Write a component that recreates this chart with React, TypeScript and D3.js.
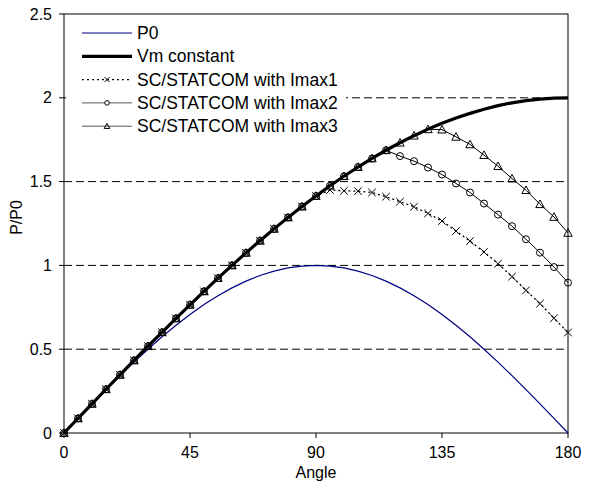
import React from "react";
import * as d3 from "d3";

const ANGLES = [0,5,10,15,20,25,30,35,40,45,50,55,60,65,70,75,80,85,90,95,100,105,110,115,120,125,130,135,140,145,150,155,160,165,170,175,180];
const P0 = [0,0.087,0.174,0.259,0.342,0.423,0.5,0.574,0.643,0.707,0.766,0.819,0.866,0.906,0.94,0.966,0.985,0.996,1,0.996,0.985,0.966,0.94,0.906,0.866,0.819,0.766,0.707,0.643,0.574,0.5,0.423,0.342,0.259,0.174,0.087,0];
const VM = [0,0.087,0.174,0.261,0.347,0.433,0.518,0.601,0.684,0.765,0.845,0.924,1,1.075,1.147,1.218,1.286,1.351,1.414,1.475,1.532,1.587,1.638,1.687,1.732,1.774,1.813,1.848,1.879,1.907,1.932,1.953,1.97,1.983,1.992,1.998,2];
const IMAX1 = [0,0.087,0.174,0.261,0.347,0.433,0.518,0.601,0.684,0.765,0.845,0.924,1,1.075,1.147,1.218,1.286,1.351,1.414,1.45,1.445,1.443,1.435,1.41,1.38,1.35,1.31,1.265,1.205,1.145,1.08,1.01,0.933,0.851,0.772,0.685,0.6];
const IMAX2 = [0,0.087,0.174,0.261,0.347,0.433,0.518,0.601,0.684,0.765,0.845,0.924,1,1.075,1.147,1.218,1.286,1.351,1.414,1.475,1.532,1.587,1.638,1.687,1.652,1.622,1.584,1.542,1.489,1.435,1.369,1.303,1.234,1.156,1.076,0.99,0.897];
const IMAX3 = [0,0.087,0.174,0.261,0.347,0.433,0.518,0.601,0.684,0.765,0.845,0.924,1,1.075,1.147,1.218,1.286,1.351,1.414,1.475,1.532,1.587,1.638,1.687,1.732,1.774,1.812,1.81,1.767,1.722,1.658,1.592,1.518,1.449,1.365,1.289,1.194];
const X_TICKS = [0,45,90,135,180];
const Y_TICKS = [0,0.5,1,1.5,2,2.5];
const GRID_Y = [0.5,1,1.5,2];
const LEGEND = ["P0","Vm constant","SC/STATCOM with Imax1","SC/STATCOM with Imax2","SC/STATCOM with Imax3"];

const W = 595, H = 488;
const L = 64, R = 568, T = 14, B = 433;
const FONT = "'Liberation Sans', Arial, sans-serif";

function xMark(cx: number, cy: number, s: number, key: string) {
  return <path key={key} d={`M${cx-s},${cy-s}L${cx+s},${cy+s}M${cx-s},${cy+s}L${cx+s},${cy-s}`} stroke="#000" strokeWidth={1} fill="none" />;
}
function tri(cx: number, cy: number, s: number, key: string) {
  return <path key={key} d={`M${cx},${cy-s}L${cx+s},${cy+s*0.8}L${cx-s},${cy+s*0.8}Z`} stroke="#000" strokeWidth={1} fill="none" />;
}

export default function App() {
  const x = d3.scaleLinear().domain([0, 180]).range([L, R]);
  const y = d3.scaleLinear().domain([0, 2.5]).range([B, T]);
  const line = (vals: number[]) => d3.line<number>().x((_, i) => x(ANGLES[i])).y(v => y(v))(vals) || "";

  const legY = (i: number) => 33 + i * 23.3;
  const lx0 = 82, lx1 = 132, tx = 137;

  return (
    <svg width={W} height={H} style={{ position: "absolute", left: 0, top: 0, background: "#fff" }} fontFamily={FONT}>
      <rect x={0} y={0} width={W} height={H} fill="#fff" />
      {GRID_Y.map(g => (
        <line key={g} x1={L} x2={R} y1={y(g)} y2={y(g)} stroke="#000" strokeWidth={1} strokeDasharray="8,4" />
      ))}
      <rect x={L} y={T} width={R - L} height={B - T} fill="none" stroke="#000" strokeWidth={1} />
      <rect x={L + 2} y={T + 2} width={280} height={124} fill="#fff" />
      {Y_TICKS.map(t => (
        <g key={t}>
          <line x1={L - 5} x2={L} y1={y(t)} y2={y(t)} stroke="#000" />
          <text x={L - 12} y={y(t)} dy="0.35em" textAnchor="end" fontSize={16}>{t}</text>
        </g>
      ))}
      {X_TICKS.map(t => (
        <g key={t}>
          <line x1={x(t)} x2={x(t)} y1={B} y2={B + 5} stroke="#000" />
          <text x={x(t)} y={B + 19} dy="0.35em" textAnchor="middle" fontSize={16}>{t}</text>
        </g>
      ))}
      <text x={(L + R) / 2} y={472} dy="0.35em" textAnchor="middle" fontSize={16}>Angle</text>
      <text transform={`translate(16,${(T + B) / 2 - 6}) rotate(-90)`} dy="0.35em" textAnchor="middle" fontSize={16}>P/P0</text>

      <path d={line(P0)} fill="none" stroke="#000080" strokeWidth={1.2} />
      <path d={line(VM)} fill="none" stroke="#000" strokeWidth={3.2} />
      <path d={line(IMAX1)} fill="none" stroke="#000" strokeWidth={1.3} strokeDasharray="2,3" />
      {IMAX1.map((v, i) => xMark(x(ANGLES[i]), y(v), 3.8, "a" + i))}
      <path d={line(IMAX2)} fill="none" stroke="#000" strokeWidth={1} />
      {IMAX2.map((v, i) => <circle key={"b" + i} cx={x(ANGLES[i])} cy={y(v)} r={3.5} fill="none" stroke="#000" strokeWidth={1} />)}
      <path d={line(IMAX3)} fill="none" stroke="#000" strokeWidth={1} />
      {IMAX3.map((v, i) => tri(x(ANGLES[i]), y(v), 4.2, "c" + i))}

      <g fontSize={17.5}>
        {LEGEND.map((name, i) => (
          <text key={name} x={tx} y={legY(i)} dy="0.35em">{name}</text>
        ))}
        <line x1={lx0} x2={lx1} y1={legY(0)} y2={legY(0)} stroke="#000080" strokeWidth={1.2} />
        <line x1={lx0} x2={lx1} y1={legY(1)} y2={legY(1)} stroke="#000" strokeWidth={3.2} />
        <line x1={lx0} x2={lx1} y1={legY(2)} y2={legY(2)} stroke="#000" strokeWidth={1.3} strokeDasharray="2,3" />
        {xMark((lx0 + lx1) / 2, legY(2), 2.5, "lx")}
        <line x1={lx0} x2={lx1} y1={legY(3)} y2={legY(3)} stroke="#555" strokeWidth={1} />
        <circle cx={(lx0 + lx1) / 2} cy={legY(3)} r={2.3} fill="#fff" stroke="#000" />
        <line x1={lx0} x2={lx1} y1={legY(4)} y2={legY(4)} stroke="#555" strokeWidth={1} />
        {tri((lx0 + lx1) / 2, legY(4), 2.8, "lt")}
      </g>
    </svg>
  );
}
